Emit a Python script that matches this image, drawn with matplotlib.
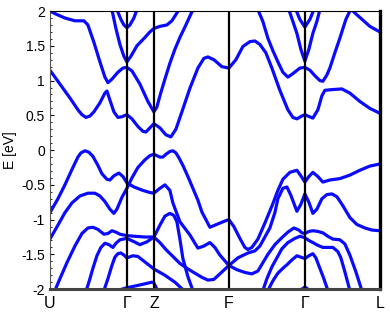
import numpy as np
import matplotlib.pyplot as plt
from matplotlib.ticker import MultipleLocator

# high-symmetry points along the k-path
kpt_pos = [0, 77, 104, 179, 255, 330]
kpt_lab = ['U', 'Γ', 'Z', 'F', 'Γ', 'L']

# bands as (k, E) pairs
band_a = [(0, 1.15), (10, 0.95), (20, 0.75), (28, 0.58), (32, 0.51), (36, 0.47), (40, 0.49), (44, 0.55),
          (50, 0.68), (55, 0.82), (57, 0.85), (60, 0.72), (64, 0.55), (68, 0.47), (72, 0.48), (77, 0.51),
          (82, 0.45), (88, 0.34), (93, 0.27), (96, 0.26), (100, 0.32), (104, 0.38), (110, 0.32),
          (116, 0.22), (121, 0.19), (126, 0.30), (132, 0.55), (140, 0.89), (148, 1.18), (154, 1.32),
          (158, 1.34), (164, 1.30), (172, 1.20), (179, 1.18), (186, 1.30), (193, 1.49), (200, 1.56),
          (205, 1.57), (210, 1.52), (216, 1.40), (222, 1.18), (230, 0.86), (238, 0.58), (243, 0.47),
          (247, 0.45), (252, 0.49), (255, 0.51), (258, 0.49), (263, 0.46), (268, 0.58), (272, 0.78),
          (275, 0.86), (282, 0.87), (292, 0.88), (300, 0.82), (310, 0.70), (320, 0.60), (330, 0.53)]
band_t = [(0, 2.0), (7, 1.95), (15, 1.90), (25, 1.86), (34, 1.86), (38, 1.80), (44, 1.55), (50, 1.27),
          (55, 1.05), (58, 0.97), (62, 1.02), (68, 1.12), (73, 1.18), (77, 1.19), (82, 1.14), (90, 0.95),
          (98, 0.70), (104, 0.55), (107, 0.62), (110, 0.78), (115, 1.02), (120, 1.25), (125, 1.45),
          (130, 1.62), (136, 1.80), (143, 2.02)]
band_c = [(62, 2.02), (66, 1.75), (70, 1.52), (74, 1.35), (77, 1.27), (81, 1.35), (87, 1.50), (95, 1.62),
          (100, 1.70), (104, 1.75), (110, 1.78), (117, 1.80), (122, 1.86), (126, 1.95), (129, 2.02)]
band_d = [(67, 2.02), (71, 1.88), (74, 1.80), (77, 1.76), (80, 1.80), (84, 1.90), (87, 2.02)]
band_e = [(208, 2.02), (213, 1.85), (218, 1.61), (223, 1.43), (228, 1.27), (233, 1.12), (238, 1.05),
          (243, 1.10), (250, 1.18), (255, 1.19), (260, 1.15), (265, 1.07), (270, 1.00), (273, 0.99),
          (277, 1.08), (280, 1.18), (285, 1.40), (290, 1.61), (296, 1.88), (301, 2.03), (306, 1.96),
          (313, 1.87), (320, 1.78), (330, 1.70)]
band_f = [(239, 2.02), (243, 1.85), (247, 1.68), (251, 1.45), (255, 1.28), (259, 1.45), (263, 1.68),
          (267, 1.85), (270, 2.02)]
band_g = [(246, 2.02), (250, 1.88), (255, 1.77), (260, 1.88), (264, 2.02)]

band_p = [(0, -0.90), (8, -0.70), (15, -0.50), (22, -0.28), (28, -0.10), (31, -0.04), (35, -0.01),
          (39, -0.03), (43, -0.09), (48, -0.22), (52, -0.34), (57, -0.42), (60, -0.43), (64, -0.37),
          (69, -0.33), (73, -0.38), (77, -0.47), (84, -0.53), (93, -0.58), (100, -0.61), (104, -0.62),
          (110, -0.55), (115, -0.50), (120, -0.58), (123, -0.76), (130, -1.03), (140, -1.22),
          (148, -1.41), (154, -1.38), (160, -1.33), (165, -1.40), (170, -1.51), (179, -1.66),
          (188, -1.55), (198, -1.48), (205, -1.45), (210, -1.38), (215, -1.25), (220, -1.12),
          (225, -0.90), (228, -0.70), (233, -0.55), (237, -0.53), (241, -0.65), (247, -0.88),
          (251, -0.78), (255, -0.63), (259, -0.75), (263, -0.91), (267, -0.85), (272, -0.70),
          (277, -0.64), (282, -0.63), (287, -0.67), (293, -0.80), (300, -0.97), (307, -1.07),
          (315, -1.12), (322, -1.15), (330, -1.16)]
band_q = [(0, -1.28), (8, -1.08), (15, -0.90), (22, -0.76), (30, -0.66), (38, -0.62), (45, -0.62),
          (50, -0.66), (55, -0.74), (60, -0.85), (64, -0.91), (67, -0.85), (72, -0.68), (77, -0.55),
          (82, -0.40), (88, -0.25), (95, -0.14), (100, -0.08), (104, -0.06), (110, -0.10), (113, -0.10),
          (116, -0.06), (120, -0.02), (123, -0.01), (126, -0.04), (129, -0.11), (133, -0.22),
          (138, -0.38), (143, -0.55), (148, -0.72), (152, -0.89), (156, -1.00), (160, -1.11),
          (165, -1.08), (170, -1.05), (175, -1.02), (179, -1.00), (184, -1.10), (190, -1.27),
          (195, -1.40), (198, -1.43), (202, -1.40), (208, -1.28), (215, -1.05), (223, -0.77),
          (228, -0.58), (233, -0.42), (240, -0.32), (247, -0.29), (251, -0.37), (255, -0.46),
          (259, -0.38), (263, -0.32), (268, -0.38), (273, -0.46), (280, -0.43), (290, -0.41),
          (300, -0.36), (310, -0.29), (320, -0.23), (330, -0.20)]
band_v3 = [(5, -2.02), (10, -1.85), (17, -1.62), (25, -1.38), (32, -1.20), (38, -1.12), (43, -1.11),
           (48, -1.14), (54, -1.21), (58, -1.20), (62, -1.16), (66, -1.18), (70, -1.21), (77, -1.23),
           (85, -1.24), (95, -1.25), (104, -1.25), (110, -1.33), (116, -1.43), (123, -1.53),
           (130, -1.63), (137, -1.70), (145, -1.77), (152, -1.83), (158, -1.87), (164, -1.86),
           (170, -1.78), (179, -1.66), (187, -1.72), (195, -1.76), (202, -1.78), (208, -1.74),
           (213, -1.62), (218, -1.50), (225, -1.36), (232, -1.26), (238, -1.18), (244, -1.12),
           (249, -1.15), (252, -1.19), (255, -1.20), (259, -1.17), (263, -1.16), (268, -1.17),
           (273, -1.19), (278, -1.24), (283, -1.28), (290, -1.29), (295, -1.35), (300, -1.51),
           (306, -1.75), (312, -2.02)]
band_v4 = [(36, -2.03), (39, -1.90), (43, -1.70), (47, -1.52), (51, -1.40), (55, -1.34), (59, -1.36),
           (63, -1.40), (66, -1.34), (70, -1.29), (77, -1.27), (83, -1.31), (90, -1.36), (97, -1.32),
           (104, -1.25), (110, -1.08), (115, -0.95), (120, -0.91), (124, -0.94), (127, -1.03),
           (130, -1.28), (133, -1.56), (138, -1.82), (143, -2.02)]
band_v5 = [(54, -2.02), (58, -1.85), (62, -1.66), (65, -1.54), (68, -1.49), (71, -1.48), (74, -1.51),
           (77, -1.55), (83, -1.52), (88, -1.53), (96, -1.62), (104, -1.71), (115, -1.80), (125, -1.90),
           (134, -2.02)]
band_v6 = [(65, -2.03), (77, -1.98), (90, -1.94), (102, -1.90), (104, -1.91), (108, -2.03)]
band_l5 = [(213, -2.02), (217, -1.85), (222, -1.68), (227, -1.55), (232, -1.42), (238, -1.33),
           (245, -1.27), (250, -1.24), (255, -1.26), (259, -1.30), (263, -1.33), (268, -1.37),
           (273, -1.40), (283, -1.40), (288, -1.46), (291, -1.55), (295, -1.75), (300, -2.02)]
band_l6 = [(218, -2.02), (223, -1.88), (228, -1.77), (233, -1.70), (237, -1.65), (242, -1.58),
           (247, -1.52), (251, -1.54), (255, -1.56), (259, -1.52), (263, -1.49), (266, -1.55),
           (270, -1.70), (274, -1.85), (278, -2.02)]
band_bot = [(249, -2.03), (255, -1.97), (261, -2.03)]

bands = [band_a, band_t, band_c, band_d, band_e, band_f, band_g, band_p, band_q,
         band_v3, band_v4, band_v5, band_v6, band_l5, band_l6, band_bot]

plt.rcParams['font.family'] = ['Liberation Sans', 'DejaVu Sans']
fig = plt.figure(figsize=(3.9, 3.16), dpi=100)
ax = fig.add_axes([0.128, 0.085, 0.846, 0.88])

for b in bands:
    b = np.array(b)
    ax.plot(b[:, 0], b[:, 1], color='#0a0aff', lw=2.3, solid_capstyle='round', solid_joinstyle='round')

for k in kpt_pos[1:-1]:
    ax.axvline(k, color='k', lw=1.6)

ax.set_xlim(kpt_pos[0], kpt_pos[-1])
ax.set_ylim(-2, 2)
ax.set_xticks(kpt_pos)
ax.set_xticklabels(kpt_lab, fontsize=11.5)
ax.tick_params(axis='x', length=0, pad=5)
ax.set_yticks(np.arange(-2, 2.01, 0.5))
ax.set_yticklabels(['-2', '-1.5', '-1', '-0.5', '0', '0.5', '1', '1.5', '2'], fontsize=10)
ax.yaxis.set_minor_locator(MultipleLocator(0.1))
ax.tick_params(axis='y', which='both', direction='in', right=False)
ax.tick_params(axis='y', which='major', length=3)
ax.tick_params(axis='y', which='minor', length=1.5)
ax.set_ylabel('E [eV]', fontsize=10, labelpad=3)

ax.spines['right'].set_linewidth(2.4)
ax.spines['right'].set_color('k')
ax.spines['bottom'].set_linewidth(2.2)
ax.spines['bottom'].set_color('#444444')
ax.spines['top'].set_linewidth(0.8)
ax.spines['left'].set_linewidth(0.8)
ax.spines['left'].set_color('#555555')

fig.savefig('out.png', dpi=100)
